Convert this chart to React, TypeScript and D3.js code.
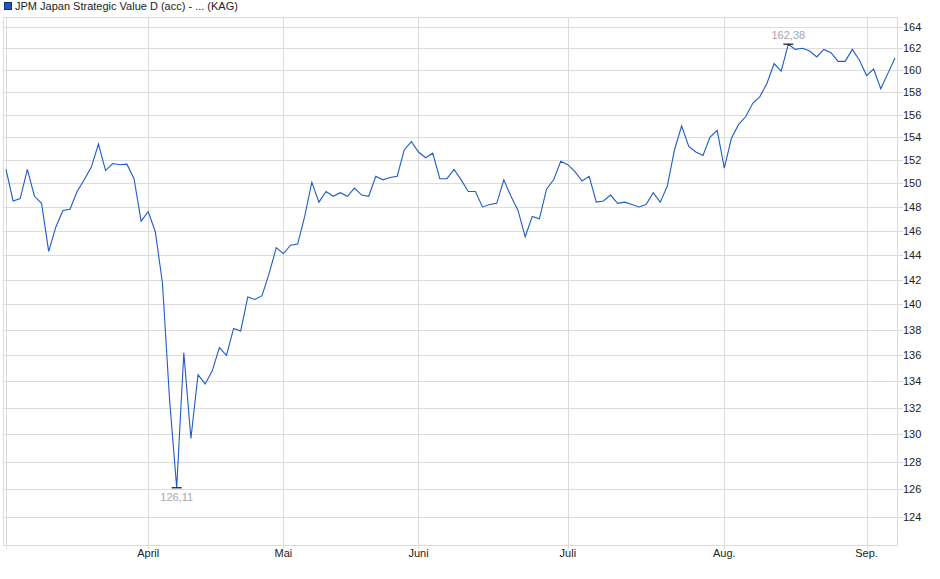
import React from "react";
import * as d3 from "d3";

const title = "JPM Japan Strategic Value D (acc) - ... (KAG)";

const values: number[] = [
  151.2, 148.5, 148.7, 151.2, 148.9, 148.3, 144.3, 146.3, 147.7, 147.8,
  149.3, 150.3, 151.4, 153.4, 151.1, 151.7, 151.6, 151.65, 150.4, 146.8,
  147.6, 145.9, 141.7, 132.6, 126.11, 136.2, 129.7, 134.5, 133.8, 134.8,
  136.6, 136.0, 138.1, 137.9, 140.6, 140.4, 140.7, 142.5, 144.6, 144.1,
  144.8, 144.9, 147.2, 150.1, 148.4, 149.3, 148.9, 149.2, 148.9, 149.6,
  149.0, 148.9, 150.6, 150.3, 150.5, 150.6, 152.9, 153.6, 152.7, 152.2,
  152.6, 150.4, 150.4, 151.2, 150.3, 149.3, 149.3, 148.0, 148.2, 148.3,
  150.3, 148.9, 147.7, 145.5, 147.2, 147.0, 149.5, 150.3, 151.9, 151.6,
  151.0, 150.2, 150.6, 148.4, 148.5, 149.0, 148.3, 148.4, 148.2, 148.0,
  148.2, 149.2, 148.4, 149.8, 152.9, 155.0, 153.2, 152.7, 152.4, 154.0,
  154.6, 151.3, 153.9, 155.1, 155.8, 157.0, 157.6, 158.8, 160.6, 159.9,
  162.38, 161.9, 162.0, 161.75, 161.2, 161.9, 161.6, 160.8, 160.8, 161.9,
  160.9, 159.5, 160.1, 158.3, 159.7, 161.1,
];

const monthLabels = ["April", "Mai", "Juni", "Juli", "Aug.", "Sep."];
const monthStartIndex = [20, 39, 58, 79, 101, 121];

const yTicks = [124, 126, 128, 130, 132, 134, 136, 138, 140, 142, 144, 146, 148, 150, 152, 154, 156, 158, 160, 162, 164];

const W = 940;
const H = 579;
const plotLeft = 3;
const plotRight = 898;
const plotTop = 17;
const plotBottom = 545;
const FONT = "'Liberation Sans', Arial, Helvetica, sans-serif";

export default function App() {
  const x = d3.scaleLinear().domain([0, values.length - 1]).range([6, 895]);
  const y = d3.scaleLog().domain([126, 162]).range([489.3, 48.3]);

  const line = d3
    .line<number>()
    .x((_, i) => x(i))
    .y((d) => y(d));

  const minVal = d3.min(values) as number;
  const maxVal = d3.max(values) as number;
  const minIdx = values.indexOf(minVal);
  const maxIdx = values.indexOf(maxVal);
  const fmt = (v: number) => v.toFixed(2).replace(".", ",");

  const gridColor = "#dcdcdc";

  return (
    <svg
      width={W}
      height={H}
      style={{ position: "absolute", left: 0, top: 0, background: "#fff" }}
      fontFamily={FONT}
    >
      <rect x={0} y={0} width={W} height={H} fill="#fff" />
      {/* legend */}
      <rect x={4.5} y={2.5} width={7} height={7} fill="#1f56c0" stroke="#1a2f6a" strokeWidth={1} />
      <text x={15} y={10} fontSize={11} fill="#222">
        {title}
      </text>

      {/* horizontal grid */}
      {yTicks.map((t) => (
        <g key={t}>
          <line
            x1={plotLeft}
            x2={plotRight + 5}
            y1={Math.round(y(t)) + 0.5}
            y2={Math.round(y(t)) + 0.5}
            stroke={gridColor}
            strokeWidth={1}
          />
          <text x={903} y={y(t) + 4} fontSize={11} fill="#222">
            {t}
          </text>
        </g>
      ))}

      {/* vertical grid */}
      {[0, ...monthStartIndex].map((idx, k) => (
        <line
          key={"v" + k}
          x1={Math.round(x(idx)) + 0.5}
          x2={Math.round(x(idx)) + 0.5}
          y1={plotTop}
          y2={plotBottom + 4}
          stroke={gridColor}
          strokeWidth={1}
        />
      ))}
      {monthLabels.map((m, k) => (
        <text
          key={m}
          x={x(monthStartIndex[k])}
          y={557}
          fontSize={11}
          textAnchor="middle"
          fill="#222"
        >
          {m}
        </text>
      ))}

      {/* plot border */}
      <rect
        x={plotLeft + 0.5}
        y={plotTop + 0.5}
        width={plotRight - plotLeft - 1}
        height={plotBottom - plotTop}
        fill="none"
        stroke={gridColor}
        strokeWidth={1}
      />

      {/* series */}
      <path d={line(values) || ""} fill="none" stroke="#1f5bc6" strokeWidth={1.1} />

      {/* min marker */}
      <line
        x1={x(minIdx) - 5}
        x2={x(minIdx) + 5}
        y1={y(minVal)}
        y2={y(minVal)}
        stroke="#111"
        strokeWidth={1.2}
      />
      <text x={x(minIdx)} y={y(minVal) + 13} fontSize={11} textAnchor="middle" fill="#a4a6ae">
        {fmt(minVal)}
      </text>

      {/* max marker */}
      <line
        x1={x(maxIdx) - 5}
        x2={x(maxIdx) + 5}
        y1={y(maxVal)}
        y2={y(maxVal)}
        stroke="#111"
        strokeWidth={1.2}
      />
      <text x={x(maxIdx)} y={y(maxVal) - 5} fontSize={11} textAnchor="middle" fill="#a4a6ae">
        {fmt(maxVal)}
      </text>
    </svg>
  );
}
